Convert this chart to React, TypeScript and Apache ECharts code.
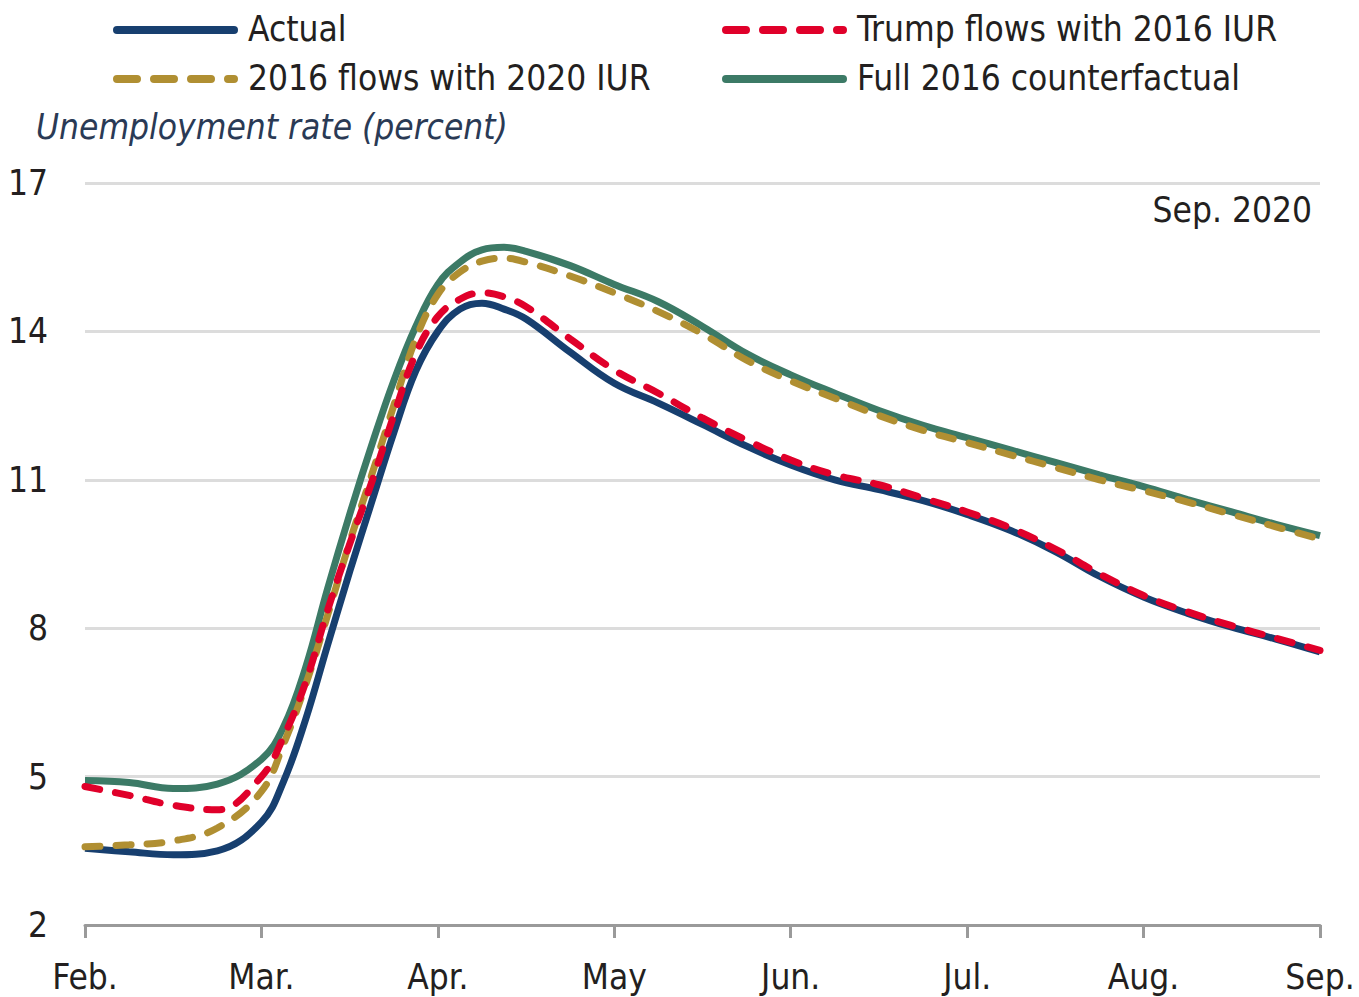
import React, { useEffect, useRef } from "react";
import * as echarts from "echarts";

const monthLabels = ["Feb.", "Mar.", "Apr.", "May", "Jun.", "Jul.", "Aug.", "Sep."];
const yTicks = [2, 5, 8, 11, 14, 17];

// x positions in months after Feb. (0 = Feb., 7 = Sep.)
const xPos = [0, 0.25, 0.5, 0.75, 1, 1.125, 1.25, 1.375, 1.5, 1.625, 1.75, 1.875, 2, 2.125, 2.25, 2.375, 2.5, 2.75, 3, 3.25, 3.5, 3.75, 4, 4.25, 4.5, 4.75, 5, 5.25, 5.5, 5.75, 6, 6.25, 6.5, 6.75, 7];

const actual = [3.55, 3.48, 3.42, 3.5, 4.08, 4.9, 6.15, 7.66, 9.14, 10.55, 11.95, 13.2, 14.0, 14.45, 14.57, 14.45, 14.25, 13.58, 12.95, 12.55, 12.12, 11.68, 11.3, 11.0, 10.8, 10.58, 10.3, 9.97, 9.55, 9.05, 8.63, 8.3, 8.02, 7.78, 7.52];
const trumpFlows2016IUR = [4.8, 4.62, 4.42, 4.33, 5.0, 5.8, 6.9, 8.36, 9.7, 10.95, 12.3, 13.55, 14.3, 14.65, 14.78, 14.7, 14.5, 13.85, 13.22, 12.75, 12.25, 11.8, 11.4, 11.1, 10.9, 10.63, 10.35, 10.02, 9.6, 9.1, 8.66, 8.33, 8.05, 7.8, 7.55];
const flows2016IUR2020 = [3.58, 3.62, 3.7, 3.96, 4.7, 5.65, 6.85, 8.26, 9.74, 11.1, 12.5, 13.85, 14.75, 15.2, 15.42, 15.48, 15.4, 15.12, 14.78, 14.4, 13.95, 13.42, 13.0, 12.65, 12.3, 12.0, 11.75, 11.5, 11.25, 11.0, 10.78, 10.55, 10.3, 10.05, 9.8];
const full2016 = [4.92, 4.88, 4.76, 4.85, 5.35, 6.0, 7.2, 8.8, 10.3, 11.7, 13.0, 14.1, 14.95, 15.4, 15.65, 15.7, 15.62, 15.33, 14.95, 14.6, 14.1, 13.55, 13.12, 12.75, 12.4, 12.1, 11.85, 11.6, 11.35, 11.1, 10.86, 10.6, 10.35, 10.1, 9.87];

const FONT = "'DejaVu Sans Condensed', 'Liberation Sans Narrow', 'Roboto', sans-serif";
const TEXT = "#231f20";

const COLORS = {
  actual: "#173f6f",
  trump: "#e0002a",
  flows: "#b08f32",
  full: "#3c7a66",
};

function pairs(vals: number[]) {
  return xPos.map((x, i) => [x, vals[i]]);
}

export default function App() {
  const ref = useRef<HTMLDivElement>(null);
  useEffect(() => {
    document.body.style.margin = "0";
    const chart = echarts.init(ref.current!, null, { renderer: "svg" });
    const lineSeries = (name: string, vals: number[], color: string, dashed: boolean, z: number) => ({
      name,
      type: "line",
      data: pairs(vals),
      smooth: 0.4,
      showSymbol: false,
      symbol: "none",
      z,
      lineStyle: {
        color,
        width: 7,
        type: dashed ? [15, 16] : "solid",
        cap: dashed ? "round" : "butt",
      },
      itemStyle: { color },
    });
    const legendBase = {
      orient: "horizontal",
      itemWidth: 125,
      itemHeight: 10,
      itemGap: 0,
      icon: "none",
      textStyle: { fontFamily: FONT, fontSize: 35, color: TEXT, padding: [0, 0, 0, 5] },
      padding: 0,
      selectedMode: false,
    };
    const legendIcon = (x: number, y: number, color: string, dashed: boolean) => ({
      type: "line",
      shape: { x1: x + 4, y1: y, x2: x + 121, y2: y },
      style: {
        stroke: color,
        lineWidth: 8,
        lineCap: "round",
        lineDash: dashed ? [20, 17] : null,
      },
      silent: true,
    });
    chart.setOption({
      animation: false,
      backgroundColor: "#ffffff",
      title: {
        text: "Unemployment rate (percent)",
        left: 36,
        top: 109,
        padding: 0,
        textStyle: { fontFamily: FONT, fontSize: 35, fontStyle: "italic", fontWeight: "normal", color: "#2a3a55" },
      },
      legend: [
        { ...legendBase, left: 113, top: 11, data: ["Actual"] },
        { ...legendBase, left: 113, top: 60, data: ["2016 flows with 2020 IUR"] },
        { ...legendBase, left: 722, top: 11, data: ["Trump flows with 2016 IUR"] },
        { ...legendBase, left: 722, top: 60, data: ["Full 2016 counterfactual"] },
      ],
      grid: { left: 85, right: 39, top: 183, bottom: 72, containLabel: false },
      xAxis: {
        type: "value",
        min: 0,
        max: 7,
        interval: 1,
        axisLine: { show: true, lineStyle: { color: "#9a9a9a", width: 3 } },
        axisTick: { show: true, length: 13, lineStyle: { color: "#9a9a9a", width: 3 } },
        splitLine: { show: false },
        axisLabel: {
          margin: 34,
          fontFamily: FONT,
          fontSize: 35,
          color: TEXT,
          formatter: (v: number) => monthLabels[Math.round(v)] ?? "",
        },
      },
      yAxis: {
        type: "value",
        min: yTicks[0],
        max: yTicks[yTicks.length - 1],
        interval: 3,
        axisLine: { show: false },
        axisTick: { show: false },
        splitLine: { show: true, lineStyle: { color: "#dcdcdc", width: 3 } },
        axisLabel: {
          margin: 37,
          fontFamily: FONT,
          fontSize: 35,
          color: TEXT,
          formatter: (v: number) => (yTicks.includes(v) ? String(v) : ""),
        },
      },
      graphic: [
        legendIcon(113, 30, COLORS.actual, false),
        legendIcon(113, 79, COLORS.flows, true),
        legendIcon(722, 30, COLORS.trump, true),
        legendIcon(722, 79, COLORS.full, false),
        {
          type: "text",
          right: 47,
          top: 192,
          style: { text: "Sep. 2020", fontFamily: FONT, fontSize: 35, fill: TEXT },
        },
      ],
      series: [
        lineSeries("Actual", actual, COLORS.actual, false, 2),
        lineSeries("Trump flows with 2016 IUR", trumpFlows2016IUR, COLORS.trump, true, 4),
        lineSeries("2016 flows with 2020 IUR", flows2016IUR2020, COLORS.flows, true, 3),
        lineSeries("Full 2016 counterfactual", full2016, COLORS.full, false, 1),
      ],
    });
    return () => chart.dispose();
  }, []);
  return <div ref={ref} style={{ width: 1359, height: 997 }} />;
}
